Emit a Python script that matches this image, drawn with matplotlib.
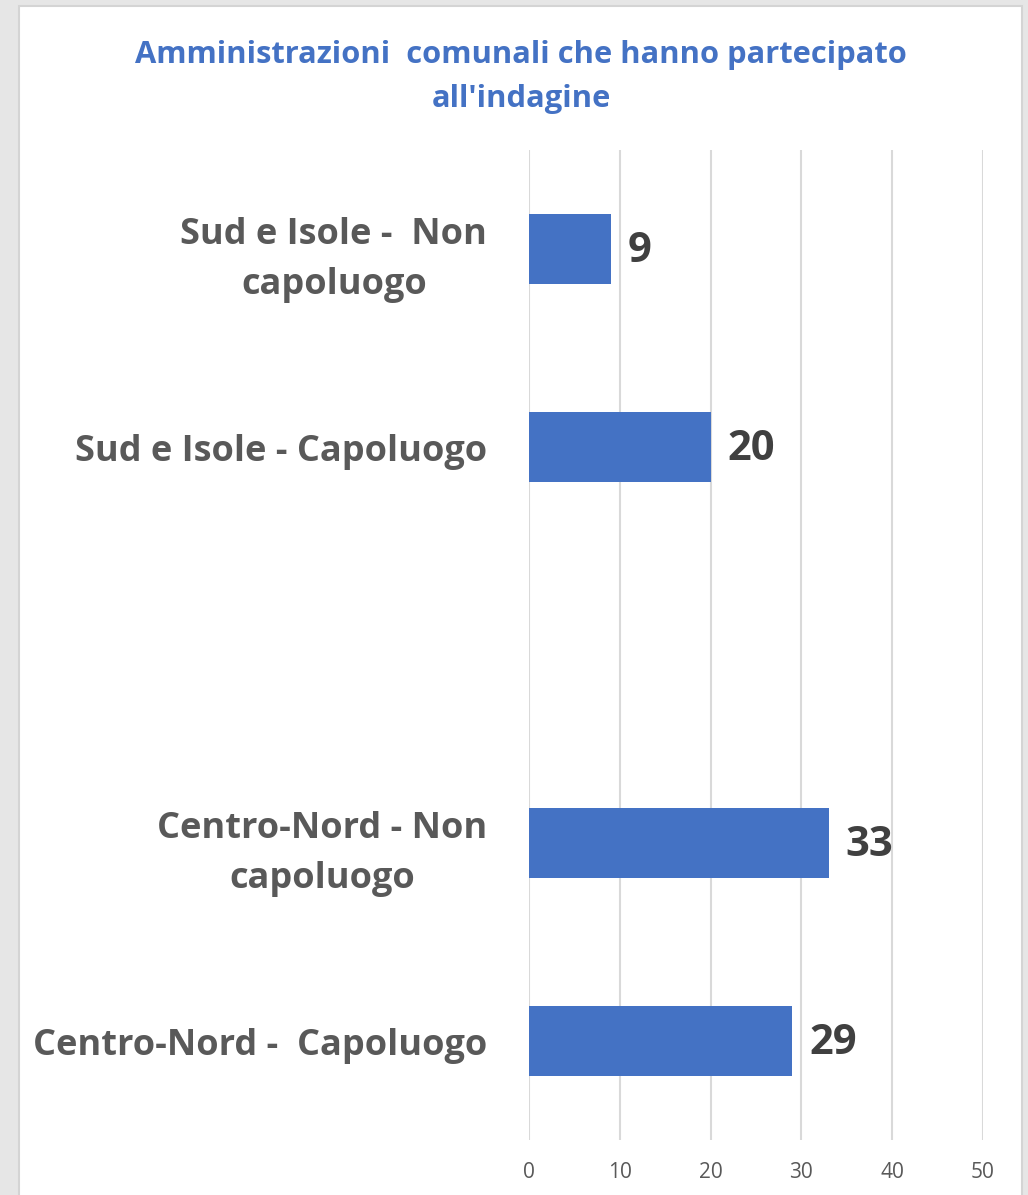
import numpy as np
import matplotlib.pyplot as plt
from matplotlib.patches import Rectangle

# dati (dal basso verso l'alto)
categorie = ["Centro-Nord -  Capoluogo", "Centro-Nord - Non\ncapoluogo", "",
             "Sud e Isole - Capoluogo", "Sud e Isole -  Non\ncapoluogo"]
valori = [29, 33, np.nan, 20, 9]
xticks = [0, 10, 20, 30, 40, 50]

blu = '#4472C4'
grigio = '#595959'

plt.rcParams['font.family'] = ['Open Sans', 'DejaVu Sans']

fig = plt.figure(figsize=(10.28, 11.95), dpi=100)
fig.patch.set_facecolor('#e6e6e6')
fig.patches.append(Rectangle((19 / 1028, -0.01), 1003 / 1028, 1.01 - 6 / 1195,
                             transform=fig.transFigure, facecolor='white',
                             edgecolor='#d4d4d4', linewidth=1.5, zorder=-5))

ax = fig.add_axes([529 / 1028, 55 / 1195, 454 / 1028, 990 / 1195])
ax.set_facecolor('none')

pos = np.arange(len(categorie))
ax.barh(pos, valori, height=0.354, color=blu, zorder=3)

for p, v in zip(pos, valori):
    if not np.isnan(v):
        ax.annotate(str(int(v)), (v, p), xytext=(12, -2), textcoords='offset points',
                    va='center', ha='left', fontsize=30, fontweight='bold', color='#404040')

ax.set_xlim(0, 50)
ax.set_ylim(-0.5, len(categorie) - 0.5)
ax.set_xticks(xticks)
ax.set_yticks(pos)
ax.set_yticklabels(categorie, fontsize=26, fontweight='bold', color=grigio,
                   linespacing=1.5, ha='right', multialignment='center')
ax.tick_params(axis='y', length=0, pad=30)
ax.tick_params(axis='x', length=0, pad=16, labelsize=15, labelcolor=grigio)
ax.grid(axis='x', color='#d9d9d9', linewidth=1.5, zorder=0)
for s in ax.spines.values():
    s.set_visible(False)

fig.text(521 / 1028, 1 - 77 / 1195, "Amministrazioni  comunali che hanno partecipato\nall'indagine",
         ha='center', va='center', fontsize=22.2, fontweight='bold', color=blu, linespacing=1.63)

fig.savefig('out.png', dpi=100, facecolor=fig.get_facecolor())
